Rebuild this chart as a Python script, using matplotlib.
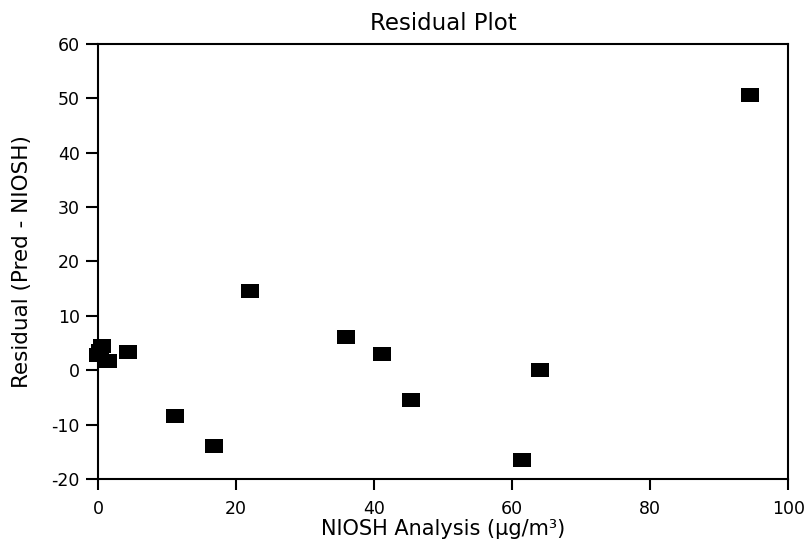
import matplotlib
matplotlib.use("Agg")
import matplotlib.pyplot as plt

plt.rcParams['font.family'] = ['DejaVu Sans']
plt.rcParams['axes.unicode_minus'] = False

niosh = [94.5, 64.1, 61.5, 22.0, 11.1, 16.8, 35.9, 41.1, 45.3, 4.4, 0.6, 0.0, 1.5, 0.3]
residual = [50.6, 0.0, -16.5, 14.6, -8.5, -14.0, 6.1, 2.9, -5.4, 3.4, 4.4, 2.7, 1.6, 3.6]

xticks = [0, 20, 40, 60, 80, 100]
yticks = [-20, -10, 0, 10, 20, 30, 40, 50, 60]

fig = plt.figure(figsize=(8.1, 5.4), dpi=100)
ax = fig.add_axes([0.121, 0.113, 0.852, 0.806])

rect = [(-1, -0.8), (1, -0.8), (1, 0.8), (-1, 0.8), (-1, -0.8)]
ax.plot(niosh, residual, linestyle='none', marker=rect, markersize=12.5,
        color='black', markeredgewidth=0, clip_on=False, zorder=5)

ax.set_xlim(0, 100)
ax.set_ylim(-20, 60)
ax.set_xticks(xticks)
ax.set_yticks(yticks)
for s in ax.spines.values():
    s.set_linewidth(1.5)
    s.set_color('black')
ax.tick_params(direction='out', width=1.5, labelsize=12.5)
ax.tick_params(axis='x', length=8, pad=7)
ax.tick_params(axis='y', length=9, pad=4)
ax.tick_params(top=False, right=False)

ax.set_title('Residual Plot', fontsize=16.5, pad=10)
ax.set_xlabel('NIOSH Analysis (µg/m³)', fontsize=15, labelpad=1)
ax.set_ylabel('Residual (Pred - NIOSH)', fontsize=15.5, labelpad=14)

fig.savefig('out.png', dpi=100)
